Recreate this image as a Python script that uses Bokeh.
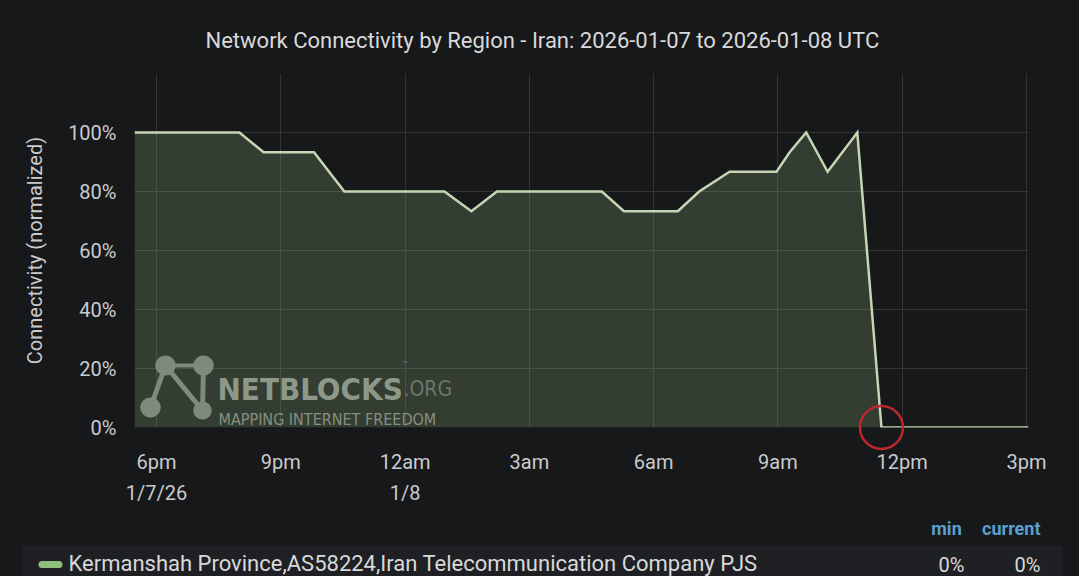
import pandas as pd
from bokeh.plotting import figure
from bokeh.layouts import column
from bokeh.models import Range1d, FixedTicker, Label, Arrow
from bokeh.core.properties import value
from bokeh.embed import file_html
from bokeh.resources import INLINE

# ---------------- data ----------------
title_text = "Network Connectivity by Region - Iran: 2026-01-07 to 2026-01-08 UTC"
y_axis_title = "Connectivity (normalized)"
series_name = "Kermanshah Province,AS58224,Iran Telecommunication Company PJS"

times = ["2026-01-07 17:28", "2026-01-07 20:00", "2026-01-07 20:35", "2026-01-07 21:48",
         "2026-01-07 22:32", "2026-01-08 00:57", "2026-01-08 01:36", "2026-01-08 02:13",
         "2026-01-08 04:45", "2026-01-08 05:17", "2026-01-08 06:35", "2026-01-08 07:06",
         "2026-01-08 07:50", "2026-01-08 08:58", "2026-01-08 09:17", "2026-01-08 09:41",
         "2026-01-08 10:12", "2026-01-08 10:55", "2026-01-08 11:30", "2026-01-08 15:03"]
connectivity = [1.0, 1.0, 0.933, 0.933, 0.80, 0.80, 0.733, 0.80, 0.80, 0.733,
                0.733, 0.80, 0.867, 0.867, 0.933, 1.0, 0.867, 1.0, 0.0, 0.0]

x_start, x_end = "2026-01-07 17:28", "2026-01-08 15:03"
tick_times = ["2026-01-07 18:00", "2026-01-07 21:00", "2026-01-08 00:00", "2026-01-08 03:00",
              "2026-01-08 06:00", "2026-01-08 09:00", "2026-01-08 12:00", "2026-01-08 15:00"]
tick_labels = ["6pm\n1/7/26", "9pm", "12am\n1/8", "3am", "6am", "9am", "12pm", "3pm"]
y_ticks = [0.0, 0.2, 0.4, 0.6, 0.8, 1.0, 1.2]
y_tick_labels = ["0%", "20%", "40%", "60%", "80%", "100%", ""]
y_min, y_max = 0.0, 1.2

legend_headers = ["min", "current"]


def ms(t):
    return pd.Timestamp(t).value / 1e6


xs = [ms(t) for t in times]
tx = [ms(t) for t in tick_times]

# ---------------- styles ----------------
BG = "#17181a"
FONT = "Roboto"
TXT = "#c9cbce"
WM_FONT = "DejaVu Sans Condensed"

W, H1, H2 = 1079, 510, 66
FL, FR, FT, FB = 134, 1028, 73, 427   # frame edges (page pixels)

p = figure(width=W, height=H1, output_backend="svg", toolbar_location=None,
           x_range=Range1d(ms(x_start), ms(x_end)), y_range=Range1d(y_min, y_max),
           min_border_left=FL, min_border_right=W - FR, min_border_top=FT,
           min_border_bottom=H1 - FB)
p.background_fill_color = BG
p.border_fill_color = BG
p.outline_line_color = None

p.title.text = title_text
p.title.align = "left"
p.title.offset = 71
p.title.text_font = FONT
p.title.text_font_size = "22px"
p.title.text_font_style = "normal"
p.title.text_color = "#d8d9da"
p.title.standoff = 42

# axes
xa = p.xaxis[0]
xa.ticker = FixedTicker(ticks=tx)
xa.major_label_overrides = {t: l for t, l in zip(tx, tick_labels)}
ya = p.yaxis[0]
ya.ticker = FixedTicker(ticks=y_ticks)
ya.major_label_overrides = {t: l for t, l in zip(y_ticks, y_tick_labels)}
ya.axis_label = y_axis_title
for ax in (xa, ya):
    ax.axis_line_color = None
    ax.major_tick_line_color = None
    ax.minor_tick_line_color = None
    ax.major_label_text_font = FONT
    ax.major_label_text_font_size = "20px"
    ax.major_label_text_color = TXT
xa.major_label_standoff = 16
xa.major_label_text_line_height = 1.3
ya.major_label_standoff = 12
ya.axis_label_standoff = 18
ya.axis_label_text_font = FONT
ya.axis_label_text_font_size = "20px"
ya.axis_label_text_font_style = "normal"
ya.axis_label_text_color = TXT

p.xgrid.grid_line_color = "#333437"
p.ygrid.grid_line_color = "#333437"

# data
p.varea(x=xs, y1=[y_min] * len(xs), y2=connectivity, fill_color="#9ac48a", fill_alpha=0.22)
p.line(x=xs, y=connectivity, line_color="#c5d6b5", line_width=2.5, line_join="miter")

drop = connectivity.index(min(connectivity))
p.scatter(x=[xs[drop]], y=[connectivity[drop]], size=43, marker="circle",
          fill_color=None, line_color="#c0272d", line_width=2.5, level="overlay")


# ---------------- watermark (frame-relative screen units) ----------------
def sx(px):
    return px - FL


def sy(py):
    return FB - py


def seg(x0, y0, x1, y1, color, width, cap="round"):
    p.add_layout(Arrow(x_start=sx(x0), y_start=sy(y0), x_end=sx(x1), y_end=sy(y1),
                       start_units="screen", end_units="screen", start=None, end=None,
                       line_color=color, line_width=width, line_cap=cap))


def label(px, py, text, size, color, style="normal"):
    p.add_layout(Label(x=sx(px), y=sy(py), x_units="screen", y_units="screen", text=text,
                       text_font=WM_FONT, text_font_size=size, text_color=color,
                       text_align="left", text_baseline="alphabetic",
                       text_font_style=style))


LOGO = "#7f897c"
seg(165, 365, 203, 365, LOGO, 4)
seg(165, 365, 150, 407, LOGO, 5)
seg(165, 365, 202, 410, LOGO, 5)
seg(203, 365, 202, 410, LOGO, 5)
for cx, cy, r in [(165, 365, 10), (203, 365, 10), (150, 407, 10), (202, 410, 9)]:
    seg(cx - 0.3, cy, cx + 0.3, cy, LOGO, 2 * r)
label(217, 388, "NETBLOCKS", "31px", "#8e9889", style="bold")
label(403, 388, ".ORG", "21px", "#6c7669")
label(401, 364, "\u2122", "8px", "#6c7669")
label(218, 419, "MAPPING INTERNET FREEDOM", "16px", "#868f82")

# ---------------- legend row (second figure, page-pixel coordinates) ----------------
TOP2 = H1  # page y where the legend figure starts
lg = figure(width=W, height=H2, output_backend="svg", toolbar_location=None,
            x_range=Range1d(FL, FR), y_range=Range1d(H2, 0),
            x_axis_location=None, y_axis_location=None,
            min_border_left=FL, min_border_right=W - FR, min_border_top=0, min_border_bottom=0)
lg.grid.visible = False
lg.outline_line_color = None
lg.background_fill_color = BG
lg.border_fill_color = BG

lg.quad(left=[22], right=[1062], top=[545 - TOP2], bottom=[H2], fill_color="#1f2023",
        line_color=None, level="overlay")
lg.segment(x0=[41.5], y0=[564 - TOP2], x1=[58.5], y1=[564 - TOP2], line_color="#8fbf7a",
           line_width=7, line_cap="round", level="overlay")
lg.text(x=[68], y=[563 - TOP2], text=[series_name], text_font=value(FONT),
        text_font_size="22px", text_color="#d8d9da", text_baseline="middle",
        text_align="left", level="overlay")
lg.text(x=[946, 1040], y=[528 - TOP2, 528 - TOP2], text=legend_headers, text_font=value(FONT),
        text_font_size="18px", text_font_style="bold", text_color="#5a9fcf",
        text_baseline="middle", text_align=["center", "right"], level="overlay")
min_txt = f"{min(connectivity) * 100:.0f}%"
cur_txt = f"{connectivity[-1] * 100:.0f}%"
lg.text(x=[951, 1040], y=[564 - TOP2, 564 - TOP2], text=[min_txt, cur_txt],
        text_font=value(FONT), text_font_size="20px", text_color="#d8d9da",
        text_baseline="middle", text_align=["center", "right"], level="overlay")

layout = column(p, lg, spacing=0)
html = file_html(layout, INLINE, title="Network Connectivity")
html = html.replace("</head>", "<style>html,body{background:#17181a;}</style></head>", 1)
open("out.html", "w").write(html)
